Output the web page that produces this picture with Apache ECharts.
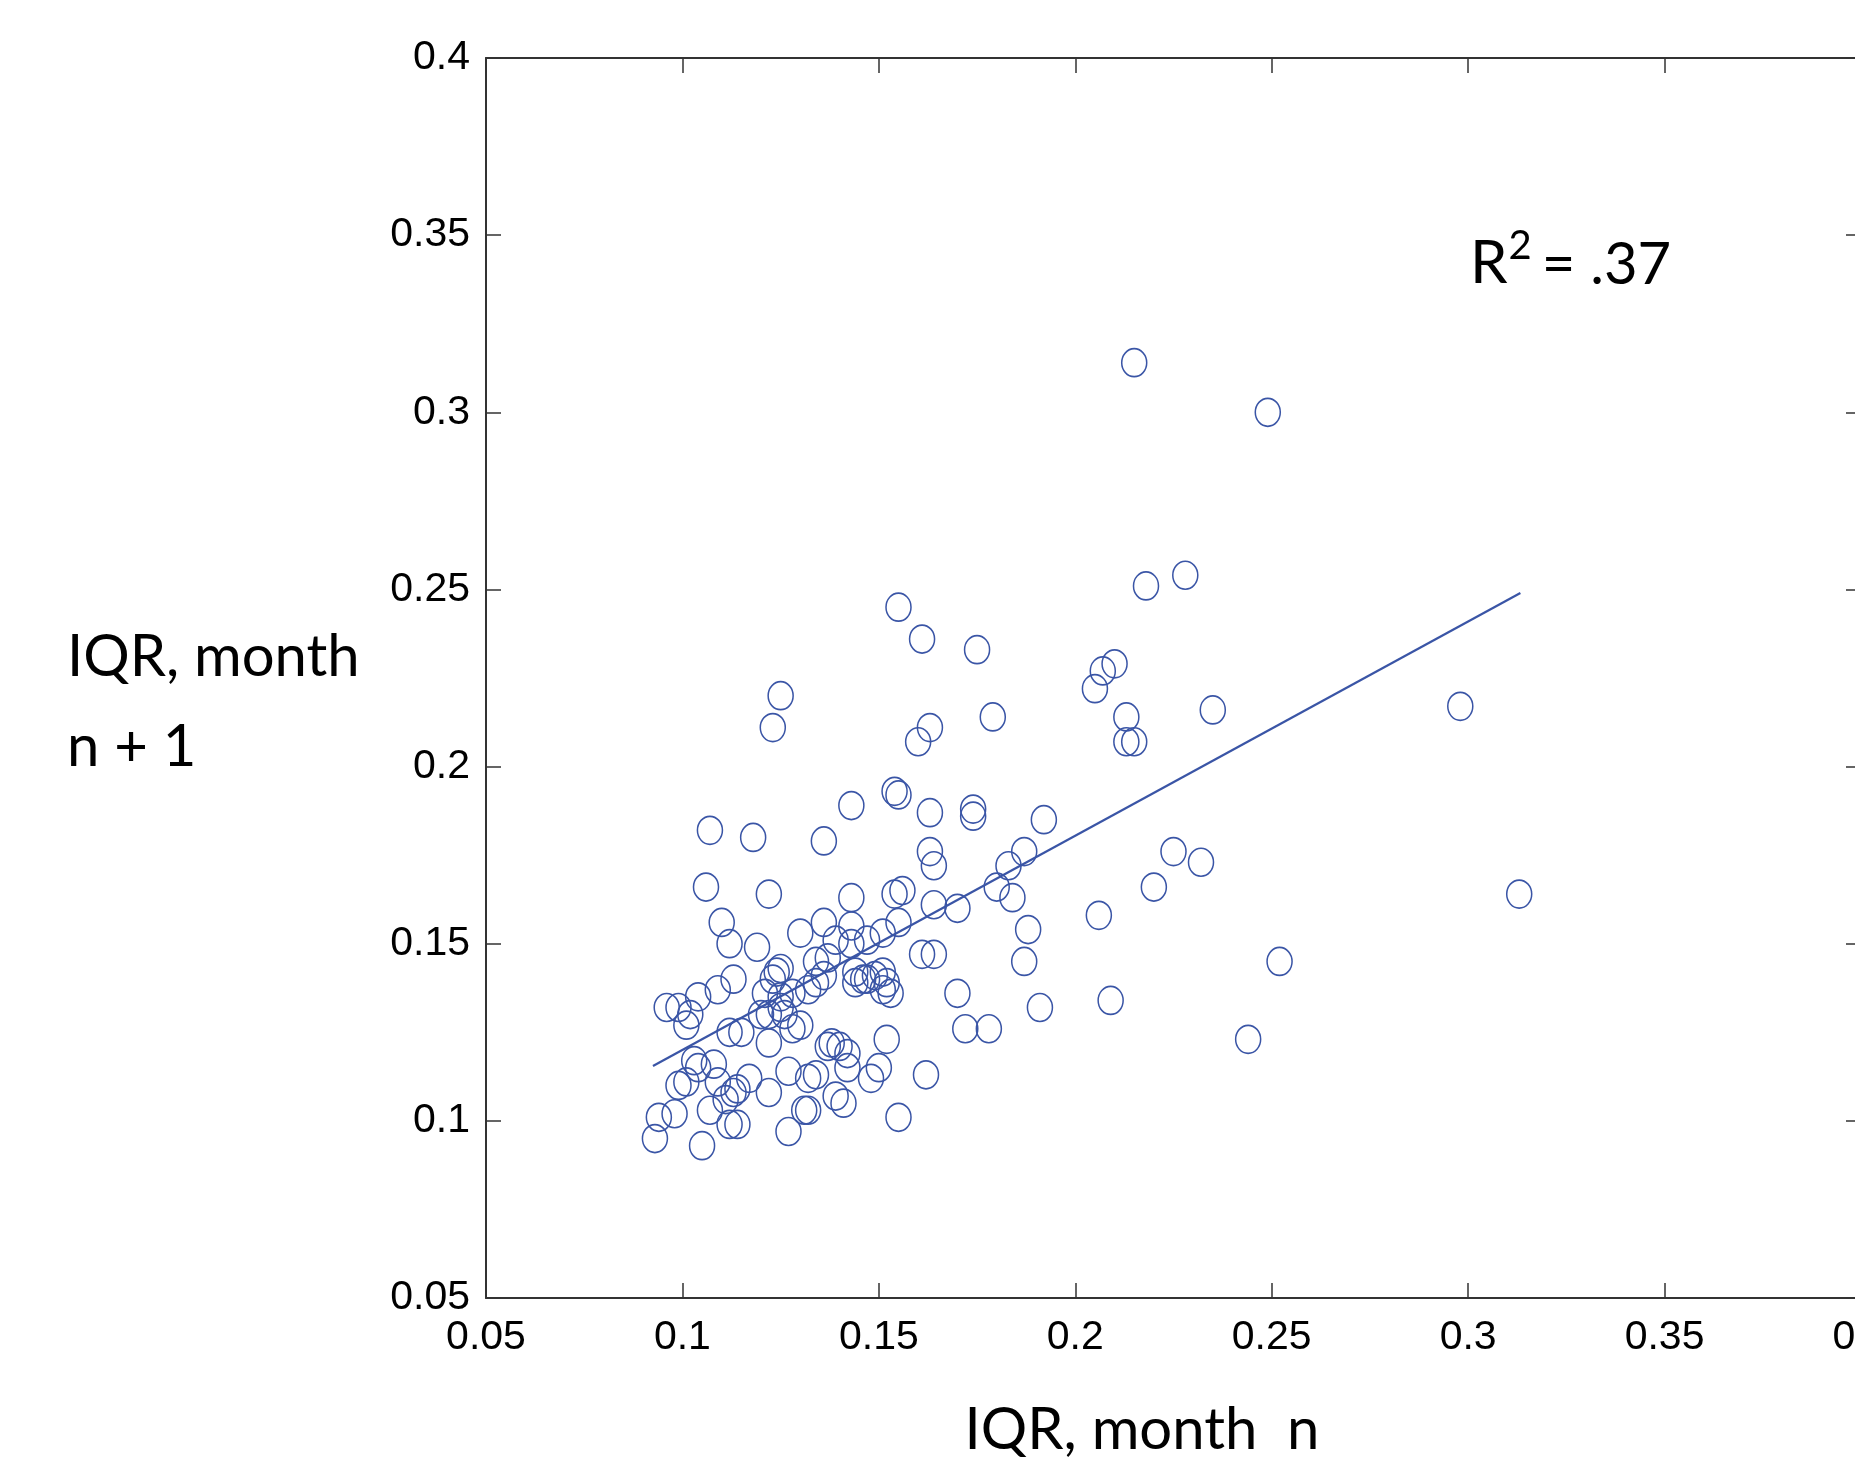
<!DOCTYPE html>
<html>
<head>
<meta charset="utf-8">
<script src="https://cdn.jsdelivr.net/npm/echarts@6/dist/echarts.min.js"></script>
<style>
html,body{margin:0;padding:0;background:#fff;}
#chart{width:1855px;height:1460px;}
</style>
</head>
<body>
<div id="chart"></div>
<script>
// Axis ticks
var xTicks = {min: 0.05, max: 0.4, interval: 0.05};
var yTicks = {min: 0.05, max: 0.4, interval: 0.05};

// Scatter points: [IQR month n, IQR month n+1]
var outerPoints = [
  [0.215,0.314],[0.249,0.300],[0.228,0.254],[0.218,0.251],[0.155,0.245],[0.161,0.236],
  [0.175,0.233],[0.125,0.220],[0.123,0.211],[0.210,0.229],[0.207,0.227],[0.205,0.222],
  [0.213,0.214],[0.213,0.207],[0.215,0.207],[0.235,0.216],[0.298,0.217],[0.313,0.164],
  [0.179,0.214],[0.163,0.211],[0.160,0.207],[0.154,0.193],[0.155,0.192],[0.143,0.189],
  [0.163,0.187],[0.174,0.188],[0.174,0.186],[0.192,0.185],[0.107,0.182],[0.118,0.180],
  [0.136,0.179],[0.163,0.176],[0.164,0.172],[0.187,0.176],[0.183,0.172],[0.225,0.176],
  [0.232,0.173],[0.220,0.166],[0.106,0.166],[0.122,0.164],[0.143,0.163],[0.154,0.164],
  [0.156,0.165],[0.180,0.166],[0.184,0.163],[0.164,0.161],[0.170,0.160],[0.206,0.158],
  [0.188,0.154],[0.187,0.145],[0.161,0.147],[0.164,0.147],[0.170,0.136],[0.191,0.132],
  [0.209,0.134],[0.252,0.145],[0.244,0.123],[0.172,0.126],[0.178,0.126],[0.152,0.123],
  [0.162,0.113],[0.155,0.101],[0.150,0.115],[0.148,0.112]
];
var clusterPoints = [
  [0.110,0.156],[0.112,0.150],[0.119,0.149],[0.130,0.153],[0.136,0.156],[0.143,0.155],
  [0.155,0.156],[0.139,0.151],[0.143,0.150],[0.147,0.151],[0.151,0.153],
  [0.134,0.145],[0.137,0.146],[0.144,0.142],[0.146,0.140],[0.151,0.142],[0.151,0.137],
  [0.144,0.139],[0.134,0.139],[0.132,0.137],[0.128,0.136],[0.125,0.135],[0.121,0.136],
  [0.123,0.140],[0.124,0.142],[0.125,0.143],[0.125,0.132],[0.122,0.130],[0.126,0.130],
  [0.128,0.126],[0.130,0.127],[0.120,0.130],
  [0.096,0.132],[0.099,0.132],[0.104,0.135],[0.109,0.137],[0.113,0.140],[0.101,0.127],
  [0.102,0.130],[0.112,0.125],[0.115,0.125],[0.122,0.122],
  [0.136,0.141],[0.147,0.140],[0.149,0.141],[0.152,0.139],[0.153,0.136],
  [0.137,0.121],[0.138,0.122],[0.140,0.121],[0.142,0.119],
  [0.142,0.115],[0.134,0.113],[0.132,0.112],[0.127,0.114],[0.122,0.108],[0.117,0.112],
  [0.113,0.108],[0.114,0.109],[0.111,0.106],[0.109,0.111],[0.107,0.103],[0.101,0.111],
  [0.099,0.110],[0.104,0.115],[0.103,0.117],[0.108,0.116],[0.098,0.102],[0.094,0.101],
  [0.093,0.095],[0.105,0.093],[0.112,0.099],[0.114,0.099],[0.127,0.097],[0.131,0.103],
  [0.132,0.103],[0.141,0.105],[0.139,0.107]
];

// Least-squares fit line endpoints
var regressionLine = [[0.0925,0.1155],[0.3133,0.249]];

// Texts
var xTitle = 'IQR, month  n';
var yTitleLines = ['IQR, month', 'n + 1'];
var rSquaredText = '{a|R}{s|2}{b|= .37}';

var BLUE = '#3a55a6';
var AXIS = '#333333';
var tickFont = 'Liberation Sans, Arial, sans-serif';
var titleFont = 'Lato, Calibri, sans-serif';

var chart = echarts.init(document.getElementById('chart'), null, {renderer: 'canvas'});

function axisCommon(showLabel, extra) {
  var o = {
    type: 'value',
    min: 0.05, max: 0.4, interval: 0.05,
    splitLine: {show: false},
    axisLine: {show: true, onZero: false, lineStyle: {color: AXIS, width: 2}},
    axisTick: {show: true, inside: true, length: 15, lineStyle: {color: AXIS, width: 1.5}},
    axisLabel: {show: showLabel, color: '#000', fontFamily: tickFont, fontSize: 41}
  };
  for (var k in extra) o[k] = extra[k];
  return o;
}

var xb = axisCommon(true, {position: 'bottom'});
xb.min = xTicks.min; xb.max = xTicks.max; xb.interval = xTicks.interval;
xb.axisLabel.margin = 19;
var xt = axisCommon(false, {position: 'top'});
var yl = axisCommon(true, {position: 'left'});
yl.min = yTicks.min; yl.max = yTicks.max; yl.interval = yTicks.interval;
yl.axisLabel.margin = 16;
var yr = axisCommon(false, {position: 'right'});

var option = {
  backgroundColor: '#fff',
  animation: false,
  grid: {left: 486, top: 58, right: -6, bottom: 162, containLabel: false, outerBoundsMode: 'none'},
  xAxis: [xb, xt],
  yAxis: [yl, yr],
  series: [
    {
      type: 'line',
      data: regressionLine,
      symbol: 'none',
      lineStyle: {color: BLUE, width: 2.2},
      z: 3
    },
    {
      type: 'scatter',
      data: outerPoints.concat(clusterPoints),
      symbol: 'circle',
      symbolSize: [25, 28],
      itemStyle: {color: 'rgba(0,0,0,0)', borderColor: BLUE, borderWidth: 1.6, opacity: 1},
      z: 2
    }
  ],
  graphic: [
    {type: 'text', left: 67, top: 628, style: {text: yTitleLines[0], fill: '#000', font: '58px ' + titleFont}},
    {type: 'text', left: 67, top: 718, style: {text: yTitleLines[1], fill: '#000', font: '58px ' + titleFont}},
    {type: 'text', x: 1142, y: 1430, style: {text: xTitle, fill: '#000', font: '58px ' + titleFont, align: 'center', verticalAlign: 'middle'}},
    {type: 'text', left: 1470, top: 224, style: {
      text: rSquaredText,
      rich: {
        a: {fontFamily: titleFont, fontSize: 60, fill: '#000', color: '#000', lineHeight: 70, verticalAlign: 'bottom'},
        s: {fontFamily: titleFont, fontSize: 40, fill: '#000', color: '#000', lineHeight: 70, verticalAlign: 'top', padding: [2, 0, 0, 1]},
        b: {fontFamily: titleFont, fontSize: 58, fill: '#000', color: '#000', lineHeight: 70, verticalAlign: 'bottom', padding: [0, 0, 0, 10]}
      }
    }}
  ]
};
chart.setOption(option);
</script>
</body>
</html>
